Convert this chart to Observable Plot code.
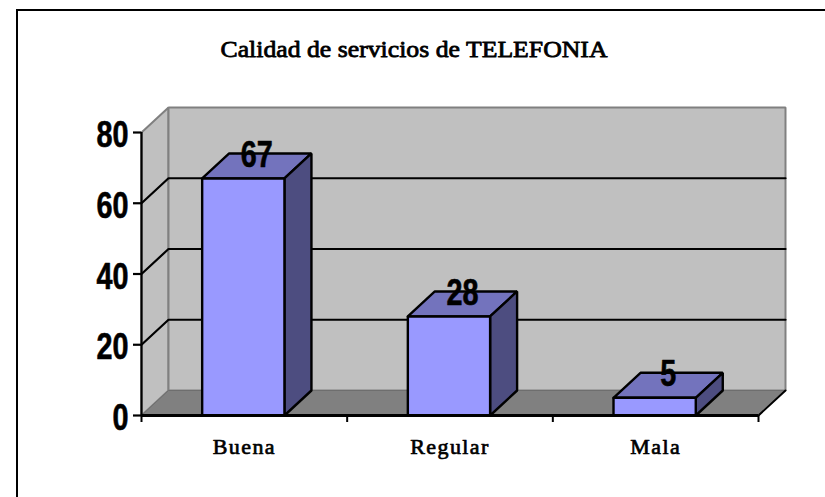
<!DOCTYPE html>
<html><head><meta charset="utf-8">
<script src="https://cdn.jsdelivr.net/npm/d3@7"></script>
<script src="https://cdn.jsdelivr.net/npm/@observablehq/plot@0.6"></script>
<style>
html,body{margin:0;padding:0;background:#fff;overflow:hidden}
#chart{position:relative;width:825px;height:497px}
#border{position:absolute;left:16px;top:9px;width:809px;height:488px;border-left:2px solid #000;border-top:2px solid #000;box-sizing:border-box}
#chart svg{position:absolute;left:0;top:0}
.cat text{letter-spacing:1.4px}
</style></head><body>
<div id="chart"><div id="border"></div></div>
<script>
const title = "Calidad de servicios de TELEFONIA";
const categories = ["Buena", "Regular", "Mala"];
const values = [67, 28, 5];
const yTicks = [0, 20, 40, 60, 80];
const xEdges = [0, 1, 2, 3];
const gridValues = [20, 40, 60];

const depthX = 27 / 205.67;   // depth of the 3D box in category units
const depthY = 25 / 3.5375;   // depth of the 3D box in value units
const xMax = categories.length, yMax = yTicks[yTicks.length - 1];
const barHalf = 0.2, barShift = -0.005;
const serif = "'Liberation Serif', serif";
const sans = "'Liberation Sans', sans-serif";

const poly = (pts) => pts.map(([x, y]) => ({x, y}));
const face = (pts, fill, stroke, strokeWidth) =>
  Plot.line(poly([...pts, pts[0]]), {x: "x", y: "y", fill, stroke, strokeWidth, strokeLinejoin: "miter", curve: "linear"});

const gridPaths = gridValues.map(v => poly([[0, v], [depthX, v + depthY], [xMax + depthX, v + depthY]]));

const barMarks = values.flatMap((v, i) => {
  const a = i + 0.5 - barHalf + barShift, b = i + 0.5 + barHalf + barShift;
  return [
    face([[a, v], [a + depthX, v + depthY], [b + depthX, v + depthY], [b, v]], "#7373bd", "#000", 2.4),
    face([[b, 0], [b + depthX, depthY], [b + depthX, v + depthY], [b, v]], "#4d4d80", "#000", 2.4),
    face([[a, 0], [b, 0], [b, v], [a, v]], "#9999ff", "#000", 2.4)
  ];
});

const table = categories.map((c, i) => ({c, v: values[i], i}));
const numberStyle = {fontSize: 36, fontFamily: sans, fontWeight: "bold", fill: "#000", stroke: "#000", strokeWidth: 0.6, className: "narrow"};

const chart = Plot.plot({
  width: 825, height: 497,
  marginLeft: 141, marginRight: 67, marginTop: 132, marginBottom: 82,
  style: {background: "transparent"},
  x: {domain: [0, xMax], axis: null},
  y: {domain: [0, yMax], axis: null},
  marks: [
    face([[0, 0], [depthX, depthY], [depthX, yMax + depthY], [0, yMax]], "#c0c0c0", "#808080", 2),
    face([[depthX, depthY], [xMax + depthX, depthY], [xMax + depthX, yMax + depthY], [depthX, yMax + depthY]], "#c0c0c0", "#808080", 2),
    face([[0, 0], [xMax, 0], [xMax + depthX, depthY], [depthX, depthY]], "#808080", "#6e6e6e", 1),
    Plot.line(poly([[xMax, 0], [xMax + depthX, depthY]]), {x: "x", y: "y", stroke: "#000", strokeWidth: 2}),
    ...gridPaths.map(g => Plot.line(g, {x: "x", y: "y", stroke: "#000", strokeWidth: 2.2, curve: "linear"})),
    Plot.axisY({
      ticks: yTicks, tickSize: 8, label: null, stroke: "#000", strokeWidth: 2.2,
      tickFormat: () => "", marginLeft: 141
    }),
    Plot.axisX({
      ticks: xEdges, tickSize: 7, label: null, tickFormat: () => "", stroke: "#000",
      strokeWidth: 2, marginBottom: 82
    }),
    ...barMarks,
    Plot.ruleX([0], {y1: 0, y2: yMax, stroke: "#000", strokeWidth: 2.2}),
    Plot.ruleY([0], {x1: 0, x2: xMax, stroke: "#000", strokeWidth: 3}),
    Plot.text(yTicks, {
      x: () => 0, y: d => d, text: d => String(d), textAnchor: "end", dx: -13, dy: 3, ...numberStyle
    }),
    Plot.text(table, {
      x: d => d.i + 0.5 + depthX / 2, y: d => d.v + depthY, text: d => String(d.v), dy: 2, dx: -1, ...numberStyle
    }),
    Plot.text(table, {
      x: d => d.i + 0.5, y: () => 0, text: "c", dy: 31,
      fontSize: 22, fontFamily: serif, fill: "#000", stroke: "#000", strokeWidth: 0.7, className: "cat"
    }),
    Plot.text([title], {
      frameAnchor: "top-left", dx: 272.5, dy: -93, text: d => d, textAnchor: "middle",
      fontSize: 24, fontFamily: serif, fill: "#000", stroke: "#000", strokeWidth: 0.8, className: "title"
    })
  ]
});
document.getElementById("chart").appendChild(chart);
// The original's digits are a condensed face: squeeze Liberation Sans to that width.
d3.select(chart).selectAll(".narrow text").each(function () {
  const t = this.textContent;
  d3.select(this).attr("textLength", 16 * t.length).attr("lengthAdjust", "spacingAndGlyphs");
});
d3.select(chart).selectAll(".title text").attr("textLength", 387).attr("lengthAdjust", "spacingAndGlyphs");
</script>
</body></html>
